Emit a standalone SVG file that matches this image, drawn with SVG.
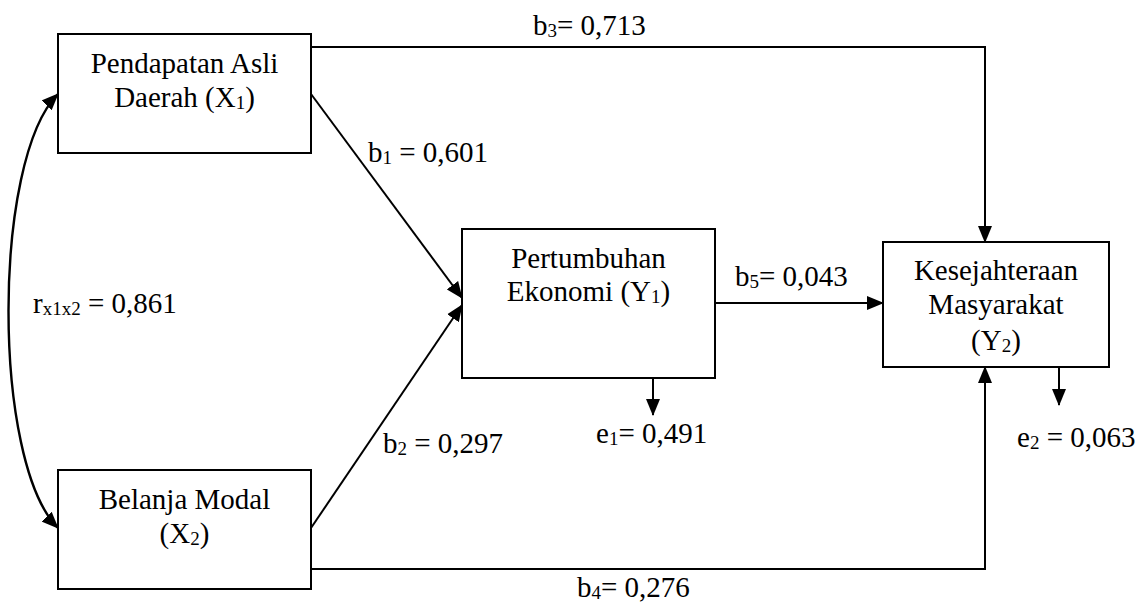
<svg xmlns="http://www.w3.org/2000/svg" width="1144" height="610" viewBox="0 0 1144 610">
<style>
.box{fill:#fff;stroke:#000;stroke-width:2}
text{font-family:'Liberation Serif','Times New Roman','DejaVu Serif',serif;font-size:29px;fill:#000}
.c{text-anchor:middle}
.s{font-size:19px}
.ln{fill:none;stroke:#000;stroke-width:2}
</style>
<defs>
<marker id="ah" markerUnits="userSpaceOnUse" markerWidth="17" markerHeight="15" refX="16" refY="7" orient="auto-start-reverse" viewBox="0 0 17 14">
<path d="M0,0 L17,7 L0,14 z" fill="#000"/>
</marker>
</defs>
<rect width="1144" height="610" fill="#fff"/>
<g id="connectors">
<polyline class="ln" points="311,47 985,47 985,242" marker-end="url(#ah)"/>
<polyline class="ln" points="311,569 985,569 985,367" marker-end="url(#ah)"/>
<line class="ln" x1="715" y1="303" x2="883" y2="303" marker-end="url(#ah)"/>
<line class="ln" x1="311" y1="94" x2="462" y2="298" marker-end="url(#ah)"/>
<line class="ln" x1="311" y1="528" x2="462" y2="305" marker-end="url(#ah)"/>
<line class="ln" x1="653" y1="378" x2="653" y2="415" marker-end="url(#ah)"/>
<line class="ln" x1="1059" y1="367" x2="1059" y2="405" marker-end="url(#ah)"/>
<path class="ln" style="stroke-width:2.4" d="M58,94 C -8,160 -8,462 58,528" marker-start="url(#ah)" marker-end="url(#ah)"/>
</g>
<g id="labels">
<text x="533" y="35">b<tspan class="s" dy="2">3</tspan><tspan dy="-2">= 0,713</tspan></text>
<text x="577" y="597">b<tspan class="s" dy="2">4</tspan><tspan dy="-2">= 0,276</tspan></text>
<text x="368" y="162">b<tspan class="s" dy="2">1</tspan><tspan dy="-2"> = 0,601</tspan></text>
<text x="383" y="453">b<tspan class="s" dy="2">2</tspan><tspan dy="-2"> = 0,297</tspan></text>
<text x="735" y="286">b<tspan class="s" dy="2">5</tspan><tspan dy="-2">= 0,043</tspan></text>
<text x="596" y="443">e<tspan class="s" dy="2">1</tspan><tspan dy="-2">= 0,491</tspan></text>
<text x="1017" y="447">e<tspan class="s" dy="2">2</tspan><tspan dy="-2"> = 0,063</tspan></text>
<text x="33" y="313">r<tspan class="s" dy="2">x1x2</tspan><tspan dy="-2"> = 0,861</tspan></text>
</g>
<g id="node-x1">
<rect class="box" x="58" y="34" width="253" height="119"/>
<text class="c" x="184.5" y="73">Pendapatan Asli</text>
<text class="c" x="184.5" y="107">Daerah (X<tspan class="s" dy="2">1</tspan><tspan dy="-2">)</tspan></text>
</g>
<g id="node-x2">
<rect class="box" x="58" y="470" width="253" height="119"/>
<text class="c" x="184.5" y="509">Belanja Modal</text>
<text class="c" x="184.5" y="543">(X<tspan class="s" dy="2">2</tspan><tspan dy="-2">)</tspan></text>
</g>
<g id="node-y1">
<rect class="box" x="462" y="229" width="253" height="149"/>
<text class="c" x="588.5" y="268">Pertumbuhan</text>
<text class="c" x="588.5" y="301">Ekonomi (Y<tspan class="s" dy="2">1</tspan><tspan dy="-2">)</tspan></text>
</g>
<g id="node-y2">
<rect class="box" x="883" y="242" width="226" height="125"/>
<text class="c" x="996" y="280">Kesejahteraan</text>
<text class="c" x="996" y="314">Masyarakat</text>
<text class="c" x="996" y="350">(Y<tspan class="s" dy="2">2</tspan><tspan dy="-2">)</tspan></text>
</g>
</svg>
